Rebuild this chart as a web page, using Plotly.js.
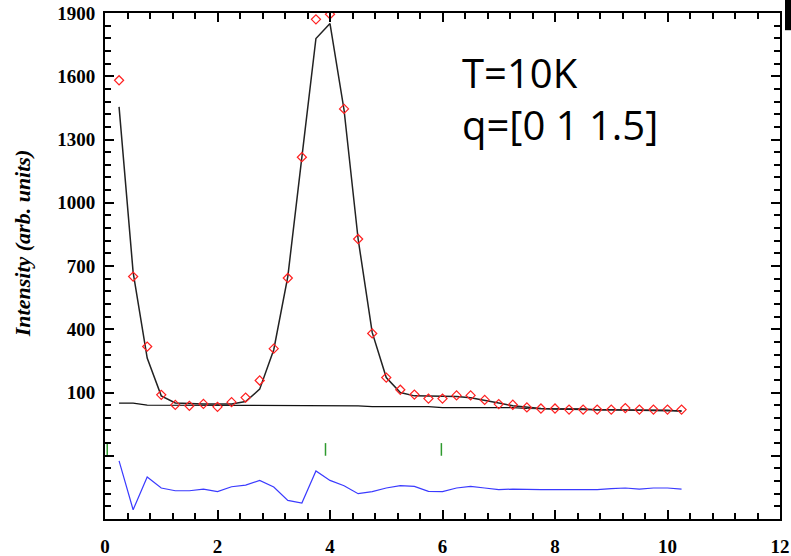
<!DOCTYPE html>
<html>
<head>
<meta charset="utf-8">
<script src="https://cdn.plot.ly/plotly-3.0.1.min.js"></script>
<style>html,body{margin:0;padding:0;background:#fff;}#chart{width:791px;height:556px;}</style>
</head>
<body>
<div id="chart"></div>
<script>
// x positions (0.25 step scan)
var xScan = [0.25,0.5,0.75,1.0,1.25,1.5,1.75,2.0,2.25,2.5,2.75,3.0,3.25,3.5,3.75,4.0,4.25,4.5,4.75,5.0,5.25,5.5,5.75,6.0,6.25,6.5,6.75,7.0,7.25,7.5,7.75,8.0,8.25,8.5,8.75,9.0,9.25,9.5,9.75,10.0,10.25];
var yObs = [1581,650,318,89,41,37,46,32,54,76,157,308,643,1216,1870,1894,1445,828,380,171,113,90,71,71,86,86,65,45,42,29,24,24,19,19,19,19,26,19,19,19,19];
var yCalc = [1455,670,263,84,50,46,45,45,46,57,116,303,650,1216,1779,1850,1440,828,385,171,100,84,84,84,81,75,61,50,37,29,24,22,20,19,18,18,17,17,17,16,12];
var yBkg = [50,50,40,40,40,40,40,39,39,39,39,39,39,37,37,37,37,37,33,33,33,33,33,28,28,28,28,28,28,24,22,22,22,22,18,17,17,17,17,17,12];
var yDiff = [-224,-456,-301,-353,-366,-366,-358,-370,-347,-339,-317,-348,-412,-424,-272,-317,-342,-380,-370,-353,-342,-345,-369,-370,-353,-345,-353,-361,-358,-361,-361,-361,-361,-361,-361,-356,-353,-358,-353,-353,-358];
var braggX = [0.04,3.92,5.98];
var braggTop = -140, braggBottom = -200;
var hiddenYLabels = {'-200': '', '\u2212200': '', '-500': '', '\u2212500': ''};
var labelLines = ['T=10K','q=[0 1 1.5]'];
var yTitle = 'Intensity (arb. units)';

var bx = [], by = [];
braggX.forEach(function(v){ bx.push(v, v, null); by.push(braggTop, braggBottom, null); });

var traces = [
  {x: xScan, y: yBkg, mode: 'lines', line: {color: '#111', width: 1.2}, hoverinfo: 'skip'},
  {x: xScan, y: yCalc, mode: 'lines', line: {color: '#222', width: 1.5}},
  {x: xScan, y: yObs, mode: 'markers', marker: {symbol: 'diamond-open', size: 7, color: '#ff2020', line: {width: 1.2}}},
  {x: xScan, y: yDiff, mode: 'lines', line: {color: '#3a3aff', width: 1.2}},
  {x: bx, y: by, mode: 'lines', line: {color: '#2e9a2e', width: 1.5}}
];

var tickFont = {family: 'Liberation Serif', size: 19, color: '#000', weight: 'bold'};

var layout = {
  width: 791, height: 556,
  margin: {l: 105, r: 11, t: 13, b: 37},
  paper_bgcolor: '#fff', plot_bgcolor: '#fff',
  showlegend: false,
  xaxis: {
    range: [0, 12], tickmode: 'linear', tick0: 0, dtick: 2,
    ticks: 'inside', ticklen: 9, tickwidth: 2, tickcolor: '#000',
    minor: {ticks: 'inside', dtick: 0.4, tick0: 0, ticklen: 6, tickwidth: 2, tickcolor: '#000'},
    showline: true, linecolor: '#000', linewidth: 2, mirror: 'allticks',
    showgrid: false, zeroline: false,
    tickfont: tickFont, ticklabelstandoff: 9
  },
  yaxis: {
    range: [-500, 1900], tickmode: 'linear', tick0: 100, dtick: 300,
    labelalias: hiddenYLabels,
    ticks: 'inside', ticklen: 9, tickwidth: 2, tickcolor: '#000',
    minor: {ticks: 'inside', dtick: 60, tick0: 100, ticklen: 6, tickwidth: 2, tickcolor: '#000'},
    showline: true, linecolor: '#000', linewidth: 2, mirror: 'allticks',
    showgrid: false, zeroline: false,
    tickfont: tickFont, ticklabelstandoff: 4
  },
  annotations: [
    {xref: 'paper', yref: 'paper', x: 0.526, y: 0.94, xanchor: 'left', yanchor: 'top', align: 'left',
     showarrow: false, text: labelLines.join('<br>'),
     font: {family: 'Open Sans', size: 40, color: '#000'}},
    {xref: 'paper', yref: 'paper', x: -0.123, y: 0.545, xanchor: 'center', yanchor: 'middle',
     showarrow: false, textangle: -90, text: yTitle,
     font: {family: 'Liberation Serif', size: 22, color: '#000', weight: 'bold', style: 'italic'}}
  ],
  shapes: [
    {type: 'rect', xref: 'paper', yref: 'paper', x0: 1.0074, x1: 1.0163, y0: 0.966, y1: 1.03,
     fillcolor: '#000', line: {width: 0}}
  ]
};

Plotly.newPlot('chart', traces, layout, {displayModeBar: false, staticPlot: true});
</script>
</body>
</html>
